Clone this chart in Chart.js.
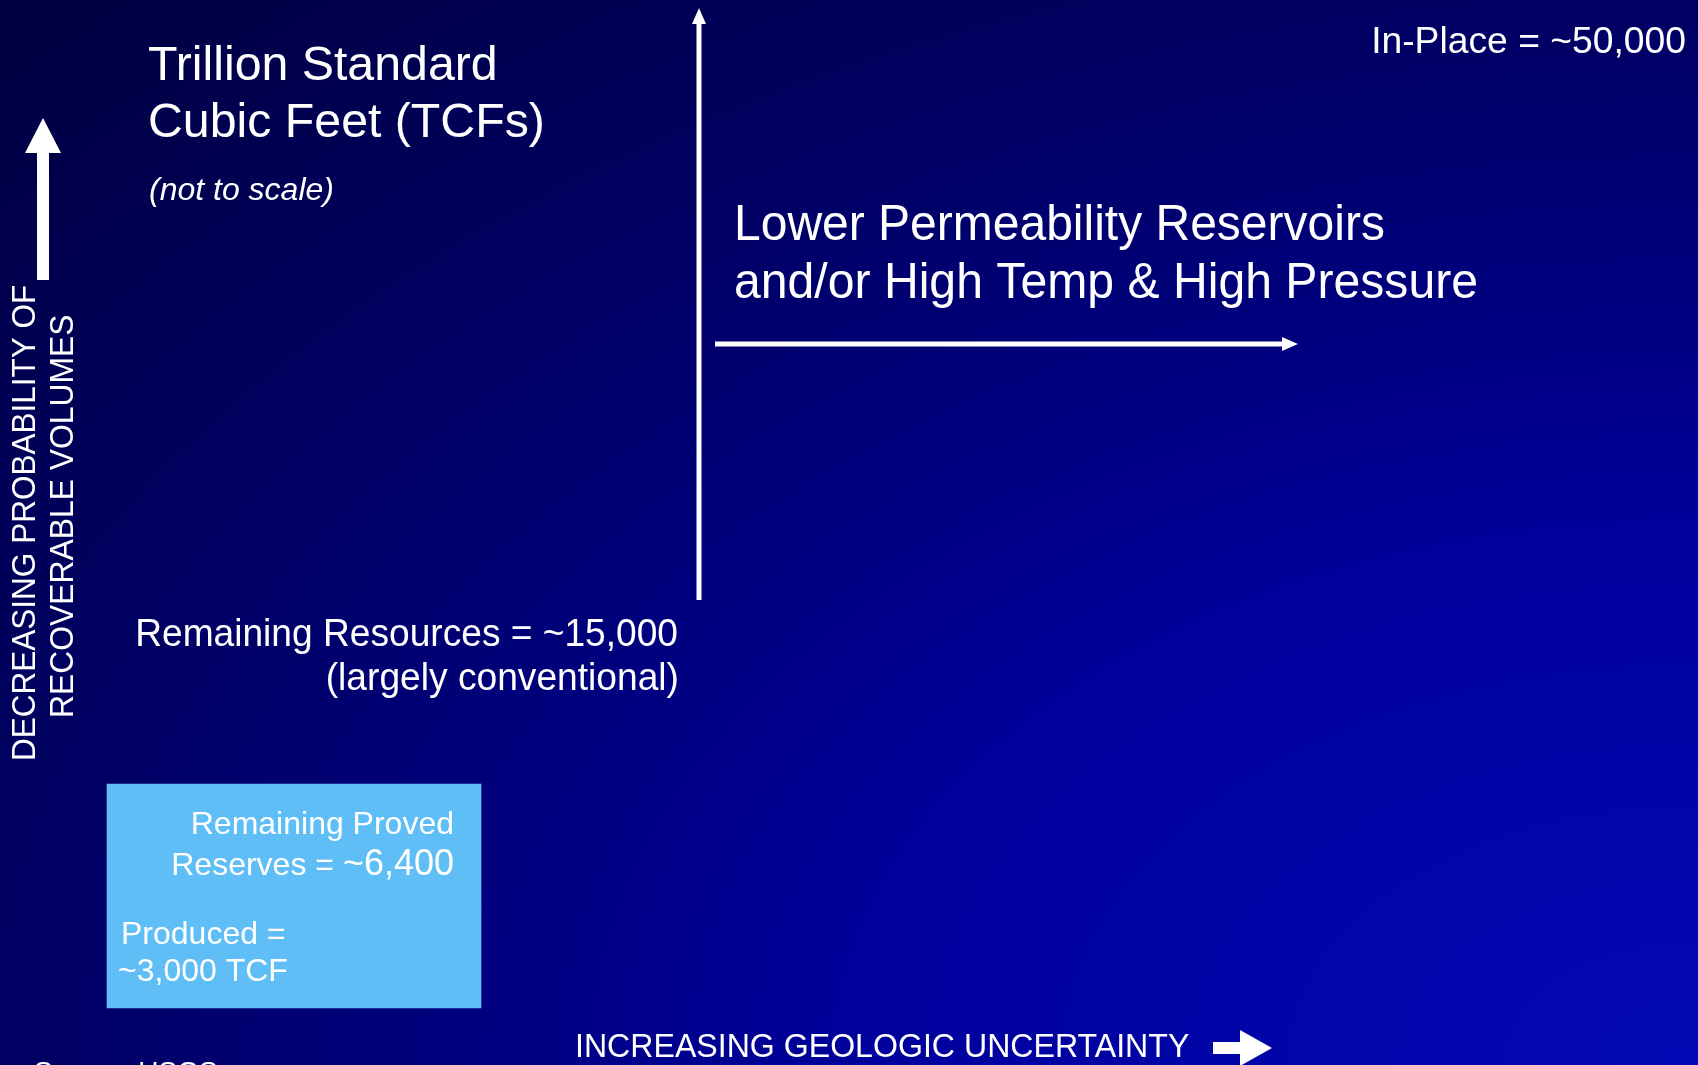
<!DOCTYPE html>
<html>
<head>
<meta charset="utf-8">
<script src="https://cdn.jsdelivr.net/npm/chart.js@4.4.1/dist/chart.umd.min.js"></script>
<style>
  html, body { margin: 0; padding: 0; background: #000050; overflow: hidden; }
  #wrap { position: relative; width: 1698px; height: 1065px; }
</style>
</head>
<body>
<div id="wrap"><canvas id="c"></canvas></div>
<script>
// ---- data (trillion standard cubic feet, not to scale) ----
const categories = ['Produced', 'Remaining Proved Reserves', 'Remaining Resources', 'In-Place'];
const volumesTCF = [3000, 6400, 15000, 50000];
const unitTitle = ['Trillion Standard', 'Cubic Feet (TCFs)'];
const scaleNote = '(not to scale)';
const unconvLabel = ['Lower Permeability Reservoirs', 'and/or High Temp & High Pressure'];
const yAxisLabel = ['DECREASING PROBABILITY OF', 'RECOVERABLE VOLUMES'];
const xAxisLabel = 'INCREASING GEOLOGIC UNCERTAINTY';
const sourceNote = 'Source: USGS';

const fmt = v => '~' + v.toLocaleString('en-US');

// ---- layout (slide units = pixels of the 1698x1065 slide) ----
const SLIDE_W = 1698, SLIDE_H = 1065;
const box = { left: 107, right: 481, top: 784, split: 905, bottom: 1008 };
const FONT = '"Liberation Sans", Arial, Helvetica, sans-serif';
const WHITE = '#ffffff';
const BOX_COLOR = '#60bef6';

function drawText(ctx, sx, sy, str, x, y, opt) {
  const o = Object.assign({ size: 32, align: 'left', italic: false, hs: 1, rot: 0 }, opt || {});
  ctx.save();
  ctx.font = (o.italic ? 'italic ' : '') + o.size + 'px ' + FONT;
  ctx.fillStyle = WHITE;
  ctx.textBaseline = 'alphabetic';
  ctx.textAlign = o.align;
  ctx.translate(sx(x), sy(y));
  if (o.rot) ctx.rotate(o.rot);
  ctx.scale(o.hs, 1);
  ctx.fillText(str, 0, 0);
  ctx.restore();
}

function lineArrow(ctx, sx, sy, x0, y0, x1, y1, w, headLen, headW) {
  const X0 = sx(x0), Y0 = sy(y0), X1 = sx(x1), Y1 = sy(y1);
  const ang = Math.atan2(Y1 - Y0, X1 - X0);
  const bx = X1 - Math.cos(ang) * headLen, by = Y1 - Math.sin(ang) * headLen;
  ctx.save();
  ctx.strokeStyle = WHITE; ctx.fillStyle = WHITE; ctx.lineWidth = w; ctx.lineCap = 'butt';
  ctx.beginPath(); ctx.moveTo(X0, Y0); ctx.lineTo(bx, by); ctx.stroke();
  const nx = -Math.sin(ang) * headW / 2, ny = Math.cos(ang) * headW / 2;
  ctx.beginPath(); ctx.moveTo(X1, Y1); ctx.lineTo(bx + nx, by + ny); ctx.lineTo(bx - nx, by - ny); ctx.closePath(); ctx.fill();
  ctx.restore();
}

function blockArrow(ctx, pts, sx, sy) {
  ctx.save();
  ctx.fillStyle = WHITE;
  ctx.beginPath();
  pts.forEach((p, i) => i ? ctx.lineTo(sx(p[0]), sy(p[1])) : ctx.moveTo(sx(p[0]), sy(p[1])));
  ctx.closePath(); ctx.fill();
  ctx.restore();
}

const slidePlugin = {
  id: 'slide',
  beforeDraw(chart) {
    const ctx = chart.ctx, W = chart.width, H = chart.height;
    ctx.save();
    ctx.translate(W, H);
    ctx.scale(W, H);
    const g = ctx.createRadialGradient(0, 0, 0, 0, 0, 1.45);
    g.addColorStop(0.0, '#0309b4');
    g.addColorStop(0.34, '#00009c');
    g.addColorStop(0.49, '#000080');
    g.addColorStop(0.69, '#000062');
    g.addColorStop(1.0, '#00003c');
    ctx.fillStyle = g;
    ctx.fillRect(-1, -1, 1, 1);
    ctx.restore();
  },
  afterDatasetsDraw(chart) {
    const ctx = chart.ctx;
    const xs = chart.scales.x, ys = chart.scales.y;
    const sx = v => xs.getPixelForValue(v), sy = v => ys.getPixelForValue(v);

    // title block
    drawText(ctx, sx, sy, unitTitle[0], 148, 80, { size: 49, hs: 0.985 });
    drawText(ctx, sx, sy, unitTitle[1], 148, 137, { size: 49, hs: 0.985 });
    drawText(ctx, sx, sy, scaleNote, 149, 200, { size: 32, italic: true, hs: 1.0 });

    // in-place
    drawText(ctx, sx, sy, categories[3] + ' = ' + fmt(volumesTCF[3]), 1686, 53, { size: 36, align: 'right', hs: 1.035 });

    // unconventional label + arrows
    drawText(ctx, sx, sy, unconvLabel[0], 734, 240, { size: 50, hs: 0.96 });
    drawText(ctx, sx, sy, unconvLabel[1], 734, 298, { size: 50, hs: 0.963 });
    lineArrow(ctx, sx, sy, 699, 600, 699, 8, 5, 16, 14);
    lineArrow(ctx, sx, sy, 715, 344, 1298, 344, 5, 16, 14);

    // remaining resources
    drawText(ctx, sx, sy, categories[2] + ' = ' + fmt(volumesTCF[2]), 678, 646, { size: 39, align: 'right', hs: 0.952 });
    drawText(ctx, sx, sy, '(largely conventional)', 679, 690, { size: 39, align: 'right', hs: 0.953 });

    // box texts
    drawText(ctx, sx, sy, 'Remaining Proved', 454, 834, { size: 32, align: 'right' });
    drawText(ctx, sx, sy, fmt(volumesTCF[1]), 454, 875, { size: 36, align: 'right' });
    ctx.save();
    ctx.font = '36px ' + FONT;
    const wNum = ctx.measureText(fmt(volumesTCF[1])).width;
    ctx.restore();
    drawText(ctx, sx, sy, 'Reserves = ', 454 - wNum, 875, { size: 32, align: 'right' });
    drawText(ctx, sx, sy, categories[0] + ' =', 121, 944, { size: 32 });
    drawText(ctx, sx, sy, fmt(volumesTCF[0]) + ' TCF', 118, 981, { size: 32 });

    // y-axis label (rotated) + arrow
    drawText(ctx, sx, sy, yAxisLabel[0], 35, 761, { size: 33, hs: 0.955, rot: -Math.PI / 2 });
    drawText(ctx, sx, sy, yAxisLabel[1], 73, 718, { size: 33, hs: 0.965, rot: -Math.PI / 2 });
    blockArrow(ctx, [[37, 280], [37, 153], [25, 153], [43, 118], [61, 153], [49, 153], [49, 280]], sx, sy);

    // x-axis label + arrow
    drawText(ctx, sx, sy, xAxisLabel, 575, 1057, { size: 33, hs: 0.973 });
    blockArrow(ctx, [[1213, 1042], [1240, 1042], [1240, 1030], [1272, 1048], [1240, 1066], [1240, 1054], [1213, 1054]], sx, sy);

    // source (cut off at slide bottom)
    drawText(ctx, sx, sy, sourceNote, 34, 1081, { size: 28 });
  }
};

const boxCenter = (box.left + box.right) / 2;
const boxWidth = box.right - box.left;

new Chart(document.getElementById('c'), {
  type: 'bar',
  data: {
    datasets: [
      {
        label: categories[0],
        data: [{ x: boxCenter, y: [box.bottom, box.split] }],
        backgroundColor: BOX_COLOR, borderWidth: 0, barThickness: boxWidth, grouped: false
      },
      {
        label: categories[1],
        data: [{ x: boxCenter, y: [box.split, box.top] }],
        backgroundColor: BOX_COLOR, borderWidth: 0, barThickness: boxWidth, grouped: false
      }
    ]
  },
  options: {
    responsive: true,
    maintainAspectRatio: false,
    animation: false,
    layout: { padding: 0 },
    plugins: { legend: { display: false }, tooltip: { enabled: false }, title: { display: false } },
    scales: {
      x: { type: 'linear', min: 0, max: SLIDE_W, display: false, offset: false },
      y: { type: 'linear', min: 0, max: SLIDE_H, reverse: true, display: false }
    }
  },
  plugins: [slidePlugin]
});
</script>
</body>
</html>
